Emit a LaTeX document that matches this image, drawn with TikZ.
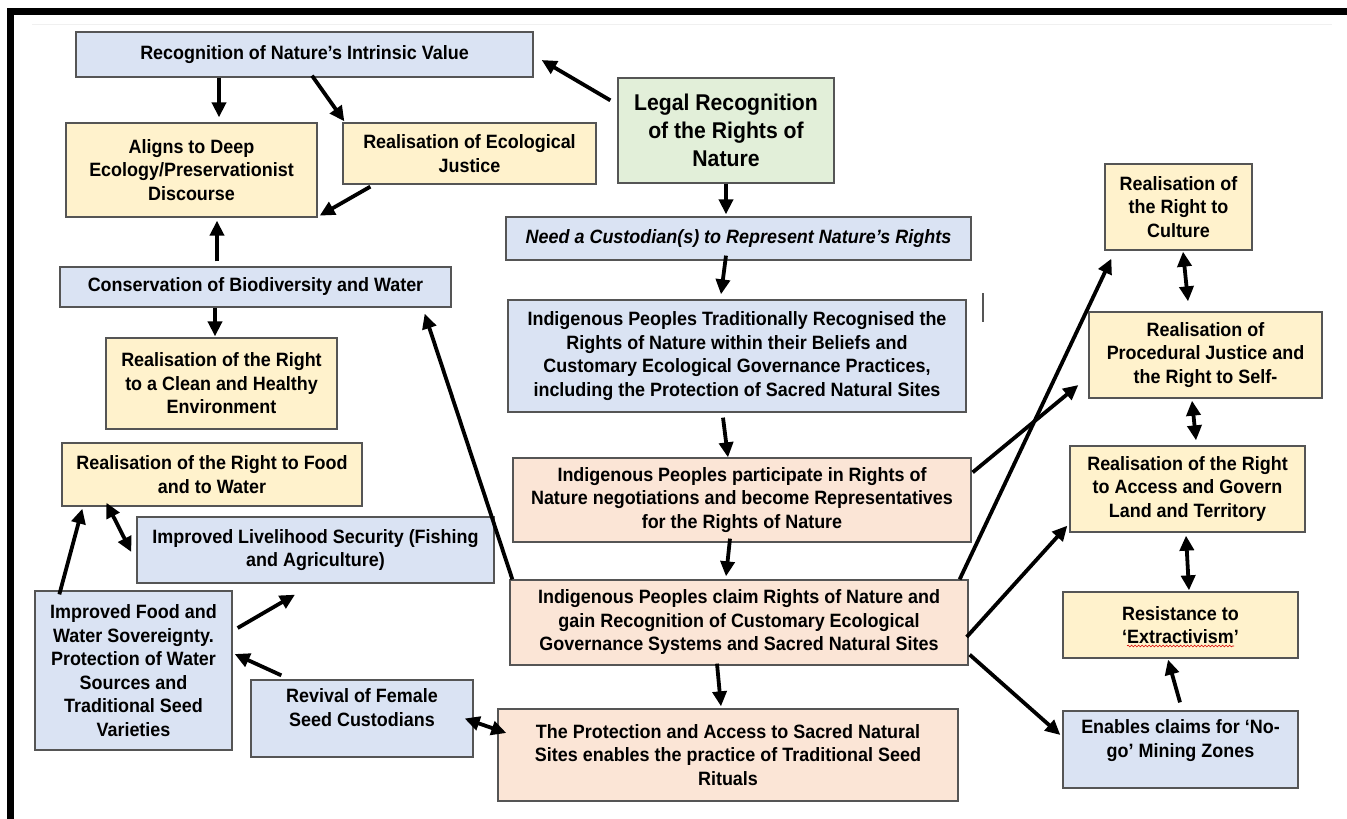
\documentclass[tikz,border=0pt]{standalone}
\usepackage{fontspec}
\setmainfont{Liberation Sans}[FakeStretch=0.93]
\usetikzlibrary{arrows.meta,decorations.pathmorphing}
\definecolor{bluef}{HTML}{DAE3F3}
\definecolor{yelf}{HTML}{FFF2CC}
\definecolor{grnf}{HTML}{E2EFD9}
\definecolor{orgf}{HTML}{FBE5D6}
\definecolor{edgec}{HTML}{555555}
\tikzset{
  box/.style={draw=edgec, line width=1.3pt, align=center, inner sep=0pt,
    font=\bfseries\fontsize{19.3}{23.5}\selectfont},
  bb/.style={box, fill=bluef},
  yb/.style={box, fill=yelf},
  gb/.style={box, fill=grnf},
  ob/.style={box, fill=orgf},
  sz/.style 2 args={minimum width=#1pt, minimum height=#2pt},
  arr/.style={line width=3.8pt, -{Triangle[length=15pt,width=14pt]}},
  darr/.style={line width=3.8pt, {Triangle[length=15pt,width=14pt]}-{Triangle[length=15pt,width=14pt]}},
}
\begin{document}
\begin{tikzpicture}[x=1pt,y=-1pt]
\useasboundingbox (0,0) rectangle (1347,819);
\fill[white] (0,0) rectangle (1347,819);
% frame
\fill[black] (7,8) rectangle (1347,15);
\fill[black] (7,8) rectangle (14,819);
\draw[black!6, line width=1pt] (32,24.5) -- (1332,24.5);

% boxes
\node[bb, sz={457}{45}] (R1) at (304.5,54.5) {Recognition of Nature’s Intrinsic Value};
\node[yb, sz={251}{94}] (A) at (191.5,170) {Aligns to Deep\\Ecology/Preservationist\\Discourse};
\node[yb, sz={253}{61}] (EJ) at (469.5,153.5) {Realisation of Ecological\\Justice};
\node[gb, sz={216}{105}, font=\bfseries\fontsize{22.8}{28}\selectfont] (LG) at (726,130.5) {Legal Recognition\\of the Rights of\\Nature};
\node[bb, sz={465}{43}, font=\bfseries\itshape\fontsize{19.3}{23.5}\selectfont] (NC) at (738.5,238.5) {Need a Custodian(s) to Represent Nature’s Rights};
\node[yb, sz={147}{86}] (RC) at (1178.5,207) {Realisation of\\the Right to\\Culture};
\node[bb, sz={391}{40}] (CB) at (255.5,287) {Conservation of Biodiversity and Water};
\node[yb, sz={231}{91}] (CH) at (221.5,383.5) {Realisation of the Right\\to a Clean and Healthy\\Environment};
\node[yb, sz={300}{63}] (FW) at (212,474.5) {Realisation of the Right to Food\\and to Water};
\node[bb, sz={458}{112}] (IT) at (737,356) {Indigenous Peoples Traditionally Recognised the\\Rights of Nature within their Beliefs and\\Customary Ecological Governance Practices,\\including the Protection of Sacred Natural Sites};
\node[ob, sz={458}{84}] (IP) at (742,500) {Indigenous Peoples participate in Rights of\\Nature negotiations and become Representatives\\for the Rights of Nature};
\node[yb, sz={233}{86}] (PJ) at (1205.5,355) {Realisation of\\Procedural Justice and\\the Right to Self-};
\node[yb, sz={235}{86}] (LT) at (1187.5,489) {Realisation of the Right\\to Access and Govern\\Land and Territory};
\node[bb, sz={357}{66}] (LS) at (315.5,550) {Improved Livelihood Security (Fishing\\and Agriculture)};
\node[bb, sz={197}{159}] (FS) at (133.5,670.5) {Improved Food and\\Water Sovereignty.\\Protection of Water\\Sources and\\Traditional Seed\\Varieties};
\node[bb, sz={222}{77}] (RF) at (362,718.5) {Revival of Female\\Seed Custodians\\[-9pt]\strut};
\node[ob, sz={458}{85}] (IC) at (739,622.5) {Indigenous Peoples claim Rights of Nature and\\gain Recognition of Customary Ecological\\Governance Systems and Sacred Natural Sites};
\node[ob, sz={460}{92}] (PA) at (728,755) {The Protection and Access to Sacred Natural\\Sites enables the practice of Traditional Seed\\Rituals};
\node[yb, sz={235}{66}] (RE) at (1180.5,625) {Resistance to\\‘Extractivism’};
\node[bb, sz={235}{77}] (NG) at (1180.5,749.5) {Enables claims for ‘No-\\go’ Mining Zones\\[-9pt]\strut};

% spell-check underline and stray cursor mark
\draw[red!85!black, line width=0.6pt, decorate, decoration={snake, amplitude=0.9pt, segment length=3.5pt}] (1127,646) -- (1234,646);
\draw[edgec, line width=1.2pt] (983,293) -- (983,322);

% connectors
\draw[arr] ([xshift=-85.5pt]R1.south) -- ([xshift=27.5pt,yshift=5pt]A.north);
\draw[arr] ([xshift=7.5pt,yshift=2pt]R1.south) -- ([xshift=2pt,yshift=1pt]EJ.north west);
\draw[arr] ([xshift=28pt,yshift=-2pt]EJ.south west) -- ([xshift=2pt,yshift=2pt]A.south east);
\draw[arr] ([xshift=-7pt,yshift=-23pt]LG.north west) -- ([xshift=8pt,yshift=-5.5pt]R1.east);
\draw[arr] ([xshift=-38.5pt,yshift=5pt]CB.north) -- ([xshift=25.5pt,yshift=-3pt]A.south);
\draw[arr] (LG.south) -- ([xshift=-12.5pt,yshift=2pt]NC.north);
\draw[arr] ([xshift=-12.5pt,yshift=5pt]NC.south) -- ([xshift=-16pt,yshift=5pt]IT.north);
\draw[arr] ([xshift=-14pt,yshift=-5pt]IT.south) -- ([xshift=-14pt]IP.north);
\draw[arr] ([xshift=-12pt,yshift=4pt]IP.south) -- ([xshift=-13pt,yshift=3pt]IC.north);
\draw[arr] ([xshift=-22pt,yshift=2pt]IC.south) -- ([xshift=-7pt,yshift=2pt]PA.north);
\draw[arr] ([xshift=3pt]IC.north west) -- ([xshift=-27pt,yshift=-6pt]CB.south east);
\draw[arr] ([xshift=-9pt]IC.north east) -- ([xshift=7pt,yshift=-8pt]RC.south west);
\draw[arr] ([xshift=1pt,yshift=-15pt]IP.north east) -- ([xshift=-10pt,yshift=-30pt]PJ.west);
\draw[arr] ([xshift=-2pt,yshift=-14.5pt]IC.east) -- ([xshift=-2pt,yshift=7pt]LT.south west);
\draw[arr] ([xshift=1pt,yshift=11pt]IC.south east) -- ([xshift=-2pt,yshift=14.5pt]NG.west);
\draw[darr] ([xshift=4.5pt,yshift=-1pt]RC.south) -- ([xshift=-17.5pt,yshift=10pt]PJ.north);
\draw[darr] ([xshift=-13.5pt,yshift=-2pt]PJ.south) -- ([xshift=8.5pt,yshift=5pt]LT.north);
\draw[darr] ([xshift=-1.5pt,yshift=-3pt]LT.south) -- ([xshift=8.5pt,yshift=1pt]RE.north);
\draw[arr] ([xshift=-0.5pt,yshift=8pt]NG.north) -- ([xshift=-12.5pt,yshift=-1pt]RE.south);
\draw[arr] ([xshift=-40.5pt]CB.south) -- ([xshift=-6.5pt,yshift=1pt]CH.north);
\draw[darr] ([xshift=45pt,yshift=4pt]FW.south west) -- ([xshift=-5pt,yshift=-2pt]LS.west);
\draw[arr] ([xshift=25pt,yshift=-4pt]FS.north west) -- ([xshift=21pt,yshift=-2pt]FW.south west);
\draw[arr] ([xshift=5pt,yshift=42.5pt]FS.east) -- ([xshift=-20.5pt,yshift=-11pt]LS.south);
\draw[arr] ([xshift=31pt,yshift=4pt]RF.north west) -- ([xshift=2pt,yshift=16.5pt]FS.east);
\draw[darr] ([xshift=-9pt]RF.east) -- ([xshift=9pt,yshift=22pt]PA.west);
\end{tikzpicture}
\end{document}
